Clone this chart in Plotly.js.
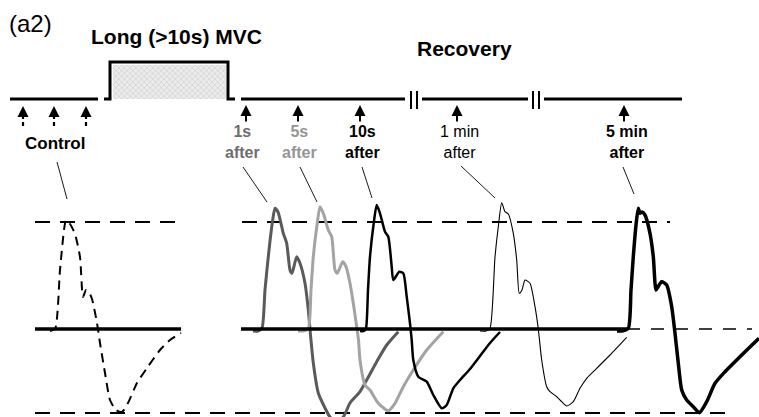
<!DOCTYPE html>
<html><head><meta charset="utf-8">
<script src="https://cdn.plot.ly/plotly-3.0.1.min.js"></script>
<style>html,body{margin:0;padding:0;background:#fff}#chart{width:759px;height:417px}</style>
</head><body><div id="chart"></div>
<script>
// ---------- data (schematic coordinates, pixel space) ----------
const timelineX = [10, 98, null, 104, 110, 110, 228, 228, 235, null, 241, 405, null, 422, 528, null, 544, 682];
const timelineY = [99, 99, null, 99, 99, 62, 62, 99, 99, null, 99, 99, null, 99, 99, null, 99, 99];
const mvcFillX = [113, 226, 226, 113];
const mvcFillY = [65, 65, 99, 99];
const breakX = [411, 417, 533, 539];
const breakTop = 91, breakBottom = 109;

const controlArrowX = [23, 54, 86];
const recoveryArrowX = [246, 298, 360, 457, 624];

const recoveryLine1 = ['1s', '5s', '10s', '1 min', '5 min'];
const recoveryLine2 = ['after', 'after', 'after', 'after', 'after'];
const recoveryLabelX = [242, 299, 362, 459, 627];
const recoveryLabelColor = ['#6e6e6e', '#959595', '#000000', '#000000', '#000000'];
const recoveryLabelBold = [true, true, true, false, true];

const leaderX = [[57, 67], [243, 267], [300, 317], [362, 372], [461, 495], [623, 634]];
const leaderY = [[162, 199], [167, 202], [167, 202], [167, 198], [166, 198], [167, 194]];

const peakLevel = 222, baseLevel = 329, troughLevel = 413;

const controlX = [50, 55, 60, 64, 66, 70, 75, 80, 83, 86, 89, 92, 97, 100, 105, 110, 116, 122, 128, 137, 147, 160, 170, 181];
const controlY = [331, 329, 270, 230, 220, 224, 234, 257, 297, 290, 292, 299, 323, 343, 373, 400, 410, 412, 403, 383, 368, 350, 340, 333];

const s1X = [253, 258, 262, 265, 268.3, 272, 275, 278, 283.3, 286.7, 290, 292, 296.7, 300, 305, 308.3, 310.5, 313.3, 318.3, 325, 330, 336, 343.3, 350, 360, 366.7, 376.7, 386.7, 398.3];
const s1Y = [331, 331, 328, 290, 256.7, 225, 208.3, 212, 233.3, 243.3, 270, 273.3, 256.7, 263.3, 283.3, 310, 335, 363, 393, 408, 417, 422, 417, 403, 391.7, 380, 361.7, 345, 331.7];

const s5X = [298, 303, 308.3, 311, 313.3, 317, 320, 323.3, 328.3, 331.7, 335, 337.3, 342.7, 346, 350, 353.3, 356.7, 358.5, 360, 365, 370, 378.3, 388.3, 395, 403.3, 413.3, 426.7, 443.3];
const s5Y = [331, 331, 328.3, 290, 256.7, 225, 206.7, 213.3, 230, 236.7, 270, 273.3, 261.7, 266.7, 283.3, 303.3, 326.7, 340, 360, 385, 390, 403.3, 410.7, 403.3, 386.7, 370, 350, 331.7];

const s10X = [360, 364, 366, 368, 370, 373.5, 376.7, 380, 385, 388.3, 391.7, 393.3, 399.3, 403.3, 406.7, 410, 411.7, 413.3, 418.3, 426.7, 433.3, 441.7, 446.7, 453.3, 460, 470, 480, 490, 500];
const s10Y = [331, 331, 328.3, 290, 256.7, 225, 205, 213.3, 231.7, 236.7, 266.7, 280, 271.7, 273.3, 296.7, 323.3, 340, 360, 376.7, 381.7, 395, 408.3, 405, 388.3, 380, 369, 356, 343, 332];

const m1X = [480, 486, 490, 495, 498.5, 501.7, 505, 508.3, 513.3, 516.7, 519.3, 522, 525, 530, 535, 538.3, 541.7, 546.7, 550, 556.7, 561.7, 566.7, 573.3, 580, 586.7, 596.7, 610, 626.7];
const m1Y = [331, 331, 328.3, 257, 225, 202.7, 211.7, 214, 233.3, 260, 293.3, 290, 280, 283.3, 306.7, 329, 360, 386.7, 391.7, 396.7, 401.7, 406, 401.7, 388.3, 378.3, 368.3, 355, 337.3];

const m5X = [617, 622, 628.3, 631, 633.3, 636, 638.3, 640, 642, 645, 650, 653.3, 656, 658.5, 661.7, 666.7, 671.7, 675, 678.3, 681.7, 686.7, 693.3, 699.3, 706.7, 715, 725, 740, 759];
const m5Y = [331, 331, 328.3, 290, 256.7, 225, 208.3, 213.3, 212, 215, 233.3, 256.7, 290, 286, 281.7, 285, 306.7, 333.3, 363.3, 390, 400, 406.7, 412.7, 401.7, 383.3, 371.7, 356.7, 338.3];

// ---------- build ----------
const SANS = '"Liberation Sans", Arial, sans-serif';
const traces = [];
function line(x, y, color, width, dash, shape) {
  traces.push({x: x, y: y, mode: 'lines', hoverinfo: 'skip', showlegend: false,
    line: {color: color, width: width, dash: dash || 'solid', shape: shape || 'linear', smoothing: 0.6}});
}
// reference dashed levels
line([35, 175], [peakLevel, peakLevel], '#000', 2, '15px,10px');
line([242, 670], [peakLevel, peakLevel], '#000', 2, '15px,10px');
line([35, 725], [troughLevel, troughLevel], '#000', 2, '15px,10px');
line([627, 752], [baseLevel, baseLevel], '#000', 1.5, '13px,11px');
// waveforms
line(s1X, s1Y, '#5a5a5a', 3, 'solid', 'spline');
line(s5X, s5Y, '#a3a3a3', 3, 'solid', 'spline');
line(s10X, s10Y, '#000', 2.5, 'solid', 'spline');
line(m1X, m1Y, '#000', 1.1, 'solid', 'spline');
line(m5X, m5Y, '#000', 3.5, 'solid', 'spline');
line(controlX, controlY, '#000', 2, '9px,6px', 'spline');
// baselines
line([35, 181], [baseLevel, baseLevel], '#000', 3.5);
line([241, 627], [baseLevel, baseLevel], '#000', 3.5);
// timeline
traces.push({x: mvcFillX, y: mvcFillY, mode: 'none', fill: 'toself', hoverinfo: 'skip', showlegend: false,
  fillcolor: '#e4e4e4', fillpattern: {shape: 'x', size: 4, solidity: 0.25, fgcolor: '#c4c4c4', bgcolor: '#ececec'}});
line(timelineX, timelineY, '#000', 3);
breakX.forEach(function (bx) { line([bx, bx], [breakTop, breakBottom], '#000', 2); });
// leader lines
leaderX.forEach(function (lx, i) { line(lx, leaderY[i], '#000', 0.9); });
// control dashed stems
controlArrowX.forEach(function (ax) { line([ax, ax], [115, 128], '#000', 2.2, '4px,3px'); });

const annotations = [];
controlArrowX.forEach(function (ax) {
  annotations.push({x: ax, y: 106, ax: ax, ay: 113, xref: 'x', yref: 'y', axref: 'x', ayref: 'y',
    text: '', showarrow: true, arrowhead: 2, arrowsize: 1.1, arrowwidth: 2, arrowcolor: '#000', standoff: 0});
});
recoveryArrowX.forEach(function (ax) {
  annotations.push({x: ax, y: 105, ax: ax, ay: 123, xref: 'x', yref: 'y', axref: 'x', ayref: 'y',
    text: '', showarrow: true, arrowhead: 2, arrowsize: 1.1, arrowwidth: 2, arrowcolor: '#000', standoff: 0});
});
function label(t, x, y, size, family, weight, color) {
  annotations.push({x: x, y: y, xref: 'x', yref: 'y', text: t, showarrow: false, xanchor: 'center', yanchor: 'middle',
    font: {size: size, family: family, weight: weight, color: color || '#000'}});
}
label('(a2)', 30, 23, 24, SANS, 400);
label('Long (>10s) MVC', 176, 36, 21, SANS, 700);
label('Recovery', 464, 48, 21, SANS, 700);
label('Control', 55, 143, 17, SANS, 700);
recoveryLine1.forEach(function (t, i) {
  const w = recoveryLabelBold[i] ? 700 : 400;
  label(t + '<br>' + recoveryLine2[i], recoveryLabelX[i], 142, 16, SANS, w, recoveryLabelColor[i]);
});

const layout = {
  width: 759, height: 417, margin: {l: 0, r: 0, t: 0, b: 0},
  paper_bgcolor: '#fff', plot_bgcolor: '#fff',
  xaxis: {range: [0, 759], visible: false, fixedrange: true},
  yaxis: {range: [417, 0], visible: false, fixedrange: true},
  annotations: annotations, showlegend: false
};
Plotly.newPlot('chart', traces, layout, {staticPlot: true, displayModeBar: false});
</script></body></html>
